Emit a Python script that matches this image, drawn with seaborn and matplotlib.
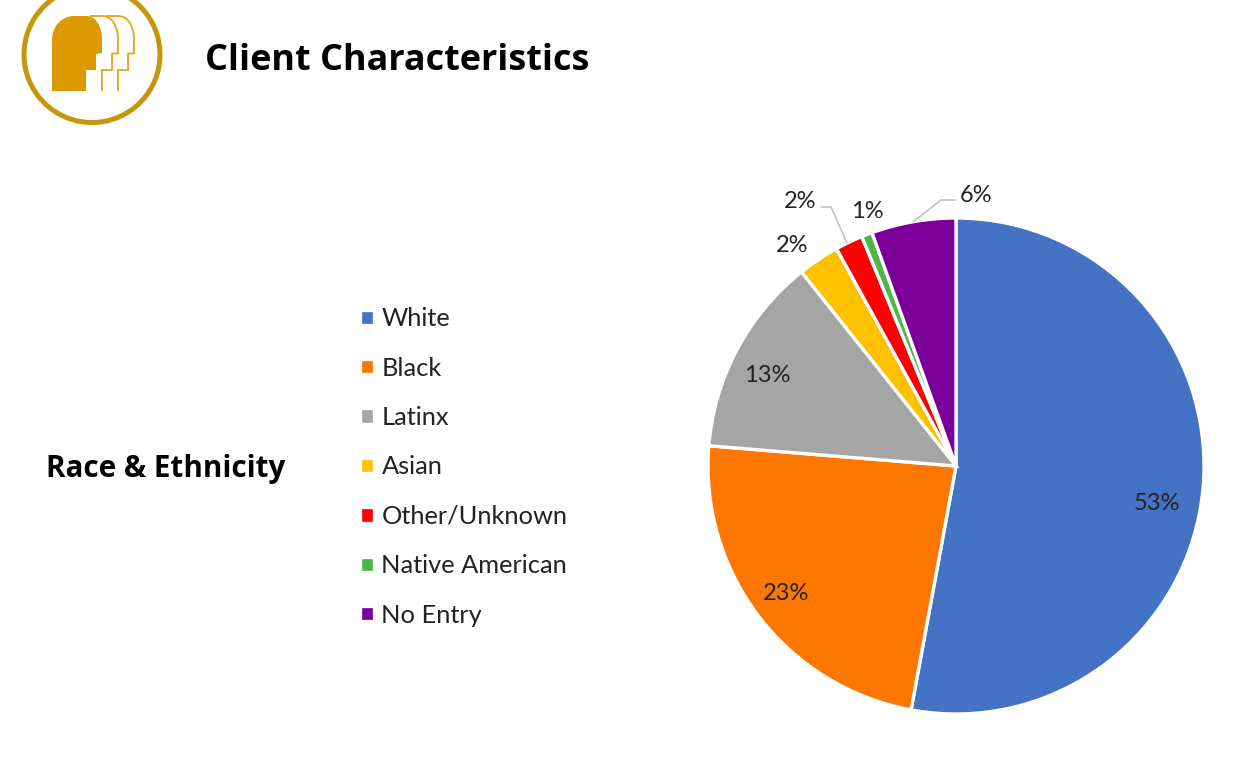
#!/usr/bin/env python3
"""
Client characteristics slide: race & ethnicity pie chart with header logo.
The axes covers the whole figure, its units are the pixels of the slide.
"""

import matplotlib
matplotlib.use("Agg")
import matplotlib.pyplot as plt
from matplotlib.patches import Circle, PathPatch
from matplotlib.path import Path
import seaborn as sns

W, H = 1242, 776

categories = ["White", "Black", "Latinx", "Asian", "Other/Unknown", "Native American", "No Entry"]
# shares, the printed labels are rounded differently
shares = [52.9, 23.4, 13.0, 2.7, 1.8, 0.7, 5.5]
pct_labels = ["53%", "23%", "13%", "2%", "2%", "1%", "6%"]
colors = ["#4472C4", "#FF7600", "#A5A5A5", "#FFC000", "#FF0000", "#4CB648", "#7B0099"]

# where the percent labels sit on the slide
label_pos = [(1157, 504), (786, 593), (767, 376), (792, 245), (800, 202), (867, 212), (976, 195)]


def py(y):
    # pixel rows count from the top, the axes from the bottom
    return H - y


def head_path(right, closed):
    # profile facing right: rounded crown, then the steps of nose and chin
    left = right - 50
    verts = [
        (left, py(91)), (left, py(40)),
        (left, py(26)), (left + 10, py(16)), (left + 22, py(16)),
        (left + 34, py(16)),
        (right - 6, py(16)), (right, py(26)), (right, py(40)),
        (right, py(53)), (right - 6, py(54)), (right - 6, py(70)),
        (right - 16, py(70)), (right - 16, py(91)),
    ]
    codes = [Path.MOVETO, Path.LINETO,
             Path.CURVE4, Path.CURVE4, Path.CURVE4,
             Path.LINETO,
             Path.CURVE4, Path.CURVE4, Path.CURVE4,
             Path.LINETO, Path.LINETO, Path.LINETO,
             Path.LINETO, Path.LINETO]
    if closed:
        verts.append((left, py(91)))
        codes.append(Path.CLOSEPOLY)
    else:
        # only the part that shows behind the solid head
        verts = verts[4:]
        codes = [Path.MOVETO] + codes[5:]
    return Path(verts, codes)


def draw_logo(ax):
    ax.add_patch(Circle((92, py(54.5)), 68, fc="white", ec="#C8960C", lw=3.6))
    for right in (134, 118):
        ax.add_patch(PathPatch(head_path(right, False), fc="none", ec="#E5A92A", lw=1.4, zorder=3))
    ax.add_patch(PathPatch(head_path(102, True), fc="#DD9900", ec="none", zorder=5))


def main():
    sns.set_theme(style="white")
    plt.rcParams["font.family"] = ["Lato", "DejaVu Sans"]
    title_font = ["Open Sans", "DejaVu Sans"]

    fig = plt.figure(figsize=(W / 100, H / 100), dpi=100)
    ax = fig.add_axes([0, 0, 1, 1])

    palette = sns.color_palette(colors)
    wedges, _ = ax.pie(
        shares,
        colors=palette,
        startangle=90,
        counterclock=False,
        center=(956, py(466)),
        radius=248,
        frame=True,
        wedgeprops={"edgecolor": "white", "linewidth": 2.4},
    )
    ax.set_xlim(0, W)
    ax.set_ylim(0, H)
    ax.set_aspect("equal")
    ax.axis("off")

    for text, (x, y) in zip(pct_labels, label_pos):
        ax.text(x, py(y), text, fontsize=17, color="#222222", ha="center", va="center")

    # leader lines of the two outer labels
    ax.plot([821, 831, 847], [py(207), py(207), py(243)], color="#BFBFBF", lw=1.1)
    ax.plot([955, 941, 913], [py(200), py(200), py(222)], color="#BFBFBF", lw=1.1)

    ax.legend(
        wedges,
        categories,
        loc="center left",
        bbox_to_anchor=(337 / W, 1 - 467 / H),
        bbox_transform=fig.transFigure,
        frameon=False,
        fontsize=18.3,
        labelspacing=1.04,
        handlelength=0.55,
        handleheight=0.55,
        handletextpad=0.3,
        labelcolor="#222222",
    )

    ax.text(205, py(61), "Client Characteristics", fontsize=25.9, fontweight="bold",
            color="black", ha="left", va="center", family=title_font)
    ax.text(46, py(469), "Race & Ethnicity", fontsize=21.3, fontweight="bold",
            color="black", ha="left", va="center", family=title_font)

    draw_logo(ax)

    fig.savefig("out.png", dpi=100, facecolor="white")


if __name__ == "__main__":
    main()
